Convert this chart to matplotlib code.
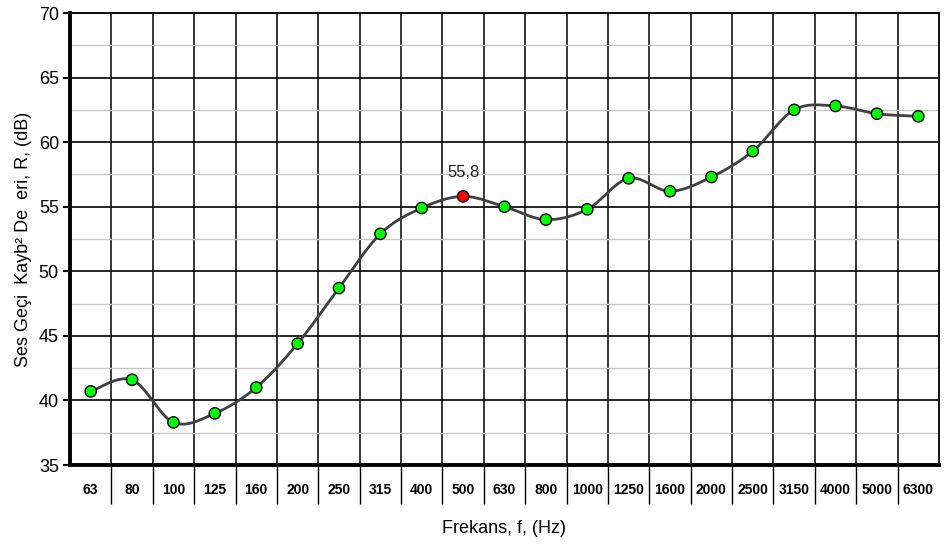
import numpy as np
import matplotlib
matplotlib.use("Agg")
import matplotlib.pyplot as plt
from matplotlib.ticker import MultipleLocator, FixedLocator, NullFormatter

plt.rcParams['font.family'] = ['Liberation Sans', 'DejaVu Sans']

freqs = ["63", "80", "100", "125", "160", "200", "250", "315", "400", "500", "630",
         "800", "1000", "1250", "1600", "2000", "2500", "3150", "4000", "5000", "6300"]
values = [40.7, 41.6, 38.3, 39.0, 41.0, 44.4, 48.7, 52.9, 54.9, 55.8, 55.0,
          54.0, 54.8, 57.2, 56.2, 57.3, 59.3, 62.5, 62.8, 62.2, 62.0]
highlight_label = "500"
highlight_text = "55,8"

x = np.arange(len(freqs), dtype=float)
y = np.array(values)

# Excel-style smoothed line (cubic Bezier with Catmull-Rom control points)
def smooth(xp, yp, n=30):
    px, py = [], []
    N = len(xp)
    for i in range(N - 1):
        x0, y0 = (xp[i - 1], yp[i - 1]) if i > 0 else (xp[i], yp[i])
        x1, y1 = xp[i], yp[i]
        x2, y2 = xp[i + 1], yp[i + 1]
        x3, y3 = (xp[i + 2], yp[i + 2]) if i + 2 < N else (xp[i + 1], yp[i + 1])
        c1x, c1y = x1 + (x2 - x0) / 6, y1 + (y2 - y0) / 6
        c2x, c2y = x2 - (x3 - x1) / 6, y2 - (y3 - y1) / 6
        t = np.linspace(0, 1, n)
        bx = (1-t)**3*x1 + 3*(1-t)**2*t*c1x + 3*(1-t)*t**2*c2x + t**3*x2
        by = (1-t)**3*y1 + 3*(1-t)**2*t*c1y + 3*(1-t)*t**2*c2y + t**3*y2
        px.extend(bx); py.extend(by)
    return np.array(px), np.array(py)

fig = plt.figure(figsize=(9.45, 5.45), dpi=100)
ax = fig.add_axes([70/945, 80/545, 869/945, 452/545])

ax.set_xlim(-0.5, len(freqs) - 0.5)
ax.set_ylim(35, 70)

# gridlines
ax.yaxis.set_major_locator(MultipleLocator(5))
ax.yaxis.set_minor_locator(MultipleLocator(2.5))
ax.grid(which='minor', axis='y', color='#c8c8c8', linewidth=1.0)
ax.grid(which='major', axis='y', color='#000000', linewidth=1.2)

# category boundaries: major ticks (long, below axis) + vertical grid
bounds = np.arange(0.5, len(freqs) - 0.5, 1.0)
ax.xaxis.set_major_locator(FixedLocator(bounds))
ax.xaxis.set_major_formatter(NullFormatter())
ax.xaxis.set_minor_locator(FixedLocator(x))
ax.set_xticklabels(freqs, minor=True, fontsize=10, fontweight='bold')
ax.tick_params(axis='x', which='major', length=28, width=1.0, color='black', direction='out')
ax.tick_params(axis='x', which='minor', length=0, pad=13)
ax.grid(which='major', axis='x', color='#000000', linewidth=1.1)
ax.set_axisbelow(True)

ax.tick_params(axis='y', which='major', length=5, width=1.5, labelsize=13, pad=3)
ax.tick_params(axis='y', which='minor', length=0)

for side in ['left', 'bottom']:
    ax.spines[side].set_linewidth(2.8)
for side in ['top', 'right']:
    ax.spines[side].set_linewidth(1.3)

sx, sy = smooth(x, y)
ax.plot(sx, sy, color='#404040', linewidth=2.0, zorder=3)

colors = ['#ff0000' if f == highlight_label else '#00ff00' for f in freqs]
ax.scatter(x, y, s=66, c=colors, edgecolors='black', linewidths=1.0, zorder=4)

hi = freqs.index(highlight_label)
ax.annotate(highlight_text, (x[hi], y[hi]), xytext=(0, 12), textcoords='offset points',
            ha='center', va='bottom', fontsize=12, color='#222222')

ax.set_xlabel("Frekans, f, (Hz)", fontsize=13, labelpad=8)
ax.set_ylabel("Ses Geçi  Kayb² De  eri, R, (dB)", fontsize=13, labelpad=5)

fig.savefig("out.png", dpi=100)
